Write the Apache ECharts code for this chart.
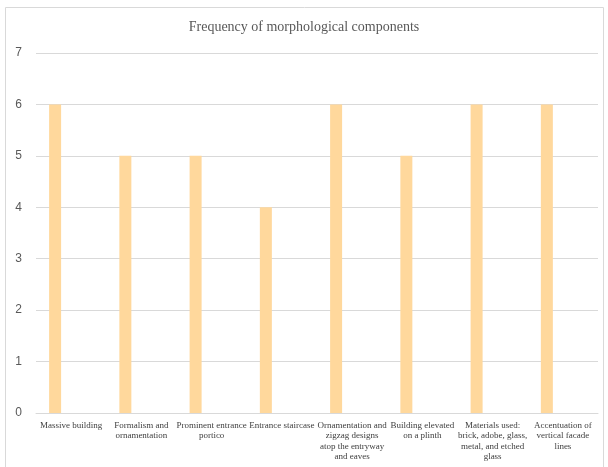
<!DOCTYPE html>
<html><head><meta charset="utf-8">
<script src="https://cdn.jsdelivr.net/npm/echarts@6/dist/echarts.min.js"></script>
<style>html,body{margin:0;padding:0;background:#fff}#c{width:608px;height:467px}</style>
</head><body><div id="c"></div>
<script>
const categories = [
  "Massive building",
  "Formalism and\nornamentation",
  "Prominent entrance\nportico",
  "Entrance staircase",
  "Ornamentation and\nzigzag designs\natop the entryway\nand eaves",
  "Building elevated\non a plinth",
  "Materials used:\nbrick, adobe, glass,\nmetal, and etched\nglass",
  "Accentuation of\nvertical facade\nlines"
];
const frequency = [6, 5, 5, 4, 6, 5, 6, 6];
const emptySeries = [null, null, null, null, null, null, null, null];
const yTicks = [0, 1, 2, 3, 4, 5, 6, 7];

const chart = echarts.init(document.getElementById('c'));
chart.setOption({
  animation: false,
  title: {
    text: 'Frequency of morphological components',
    left: 'center', top: 15,
    textStyle: { fontFamily: 'Liberation Serif', fontSize: 14, fontWeight: 'normal', color: '#595959' }
  },
  graphic: [{
    type: 'rect', silent: true,
    shape: { x: 5.5, y: 7.5, width: 598, height: 470 },
    style: { fill: 'none', stroke: '#d9d9d9', lineWidth: 1 }
  }],
  grid: { left: 36, right: 10, top: 53, bottom: 54, containLabel: false },
  xAxis: {
    type: 'category', data: categories,
    axisLine: { lineStyle: { color: '#d9d9d9' } },
    axisTick: { show: false },
    axisLabel: { interval: 0, margin: 7, fontFamily: 'Liberation Serif', fontSize: 9, lineHeight: 10.5, color: '#404040' }
  },
  yAxis: {
    type: 'value', min: yTicks[0], max: yTicks[yTicks.length - 1], interval: 1,
    axisLine: { show: false }, axisTick: { show: false },
    splitLine: { lineStyle: { color: '#d9d9d9' } },
    axisLabel: { margin: 14, fontFamily: 'Liberation Sans', fontSize: 12, color: '#595959' }
  },
  series: [
    { type: 'bar', data: frequency, barWidth: 12, barGap: '167%', itemStyle: { color: '#FFD89C' } },
    { type: 'bar', data: emptySeries, barWidth: 12, itemStyle: { color: '#FFD89C' } }
  ]
});
</script></body></html>
